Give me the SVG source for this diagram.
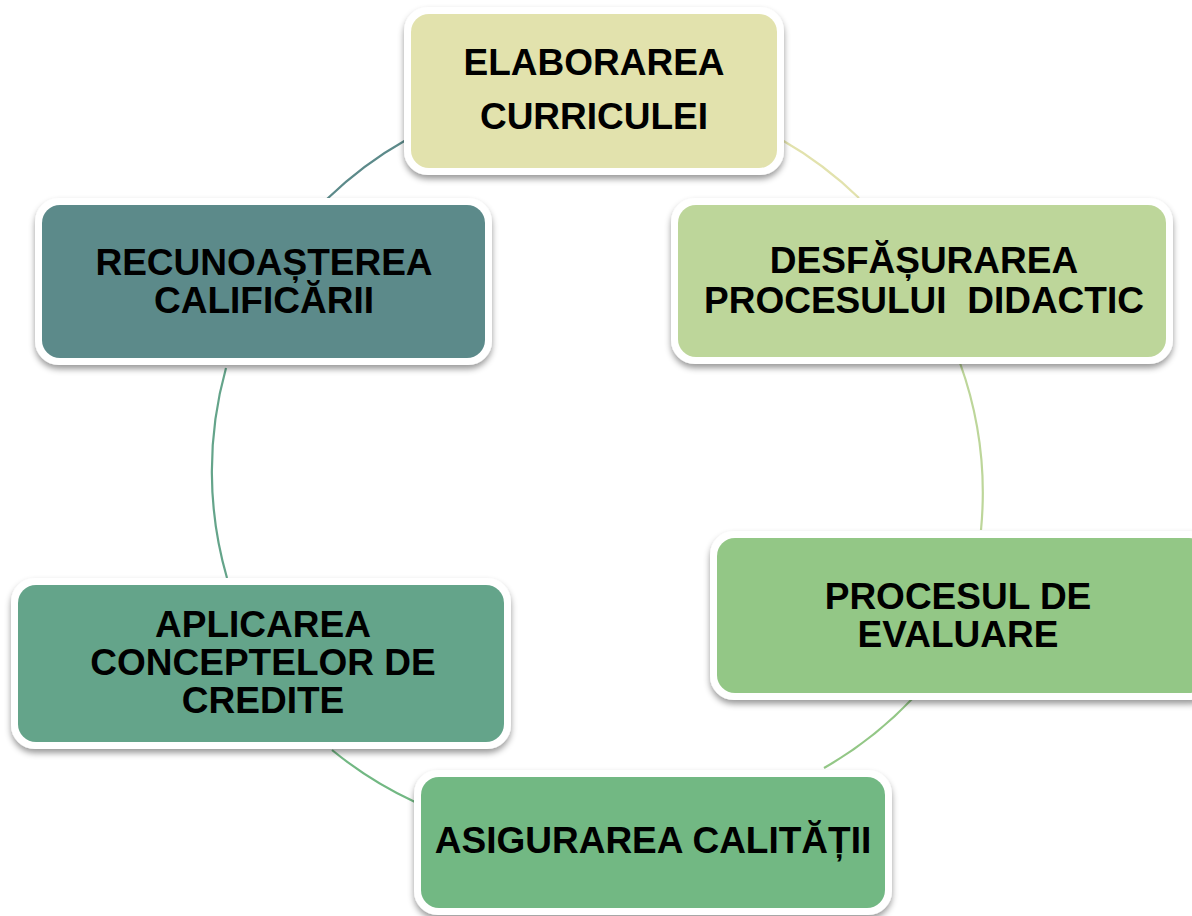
<svg xmlns="http://www.w3.org/2000/svg" width="1192" height="916" viewBox="0 0 1192 916">
<defs>
<filter id="sh" x="-10%" y="-20%" width="120%" height="150%">
<feDropShadow dx="0" dy="4" stdDeviation="3" flood-color="#000" flood-opacity="0.4"/>
</filter>
<style>
.frame{fill:#fff;filter:url(#sh)}
.lbl{font-family:"Liberation Sans",Arial,sans-serif;font-weight:bold;font-size:37px;fill:#000;text-anchor:middle}
.conn{fill:none;stroke-width:2.2}
</style>
</defs>
<rect width="1192" height="916" fill="#fff"/>
<g id="connectors">
<path class="conn" stroke="#5C8A8A" d="M327,199 A384,384 0 0 1 406,140"/>
<path class="conn" stroke="#E2E2AD" d="M782,140 A384,384 0 0 1 859,198"/>
<path class="conn" stroke="#BDD69A" d="M960,363 A384,384 0 0 1 981,530"/>
<path class="conn" stroke="#93C786" d="M913,698 A384,384 0 0 1 824,768"/>
<path class="conn" stroke="#72B883" d="M415,802 A384,384 0 0 1 332,750"/>
<path class="conn" stroke="#64A48A" d="M227,578 A384,384 0 0 1 226,368"/>
</g>
<g id="n1">
<rect class="frame" x="404" y="7" width="380" height="168" rx="24"/>
<rect x="411" y="14" width="366" height="154" rx="18" fill="#E2E2AD"/>
<text class="lbl" x="594" y="75">ELABORAREA</text>
<text class="lbl" x="594" y="129">CURRICULEI</text>
</g>
<g id="n2">
<rect class="frame" x="671" y="198" width="502" height="166" rx="24"/>
<rect x="678" y="205" width="488" height="152" rx="18" fill="#BDD69A"/>
<text class="lbl" x="924" y="273">DESFĂȘURAREA</text>
<text class="lbl" x="924" y="313" xml:space="preserve">PROCESULUI  DIDACTIC</text>
</g>
<g id="n3">
<rect class="frame" x="710" y="531" width="504" height="169" rx="24"/>
<rect x="717" y="538" width="490" height="155" rx="18" fill="#93C786"/>
<text class="lbl" x="958" y="609">PROCESUL DE</text>
<text class="lbl" x="958" y="647">EVALUARE</text>
</g>
<g id="n4">
<rect class="frame" x="414" y="770" width="478" height="145" rx="24"/>
<rect x="421" y="777" width="464" height="131" rx="18" fill="#72B883"/>
<text class="lbl" x="653" y="853">ASIGURAREA CALITĂȚII</text>
</g>
<g id="n5">
<rect class="frame" x="11" y="578" width="500" height="171" rx="24"/>
<rect x="18" y="585" width="486" height="157" rx="18" fill="#64A48A"/>
<text class="lbl" x="263" y="637">APLICAREA</text>
<text class="lbl" x="263" y="675">CONCEPTELOR DE</text>
<text class="lbl" x="263" y="713">CREDITE</text>
</g>
<g id="n6">
<rect class="frame" x="35" y="198" width="457" height="167" rx="24"/>
<rect x="42" y="205" width="443" height="153" rx="18" fill="#5C8A8A"/>
<text class="lbl" x="264" y="275">RECUNOAȘTEREA</text>
<text class="lbl" x="264" y="313">CALIFICĂRII</text>
</g>
</svg>
